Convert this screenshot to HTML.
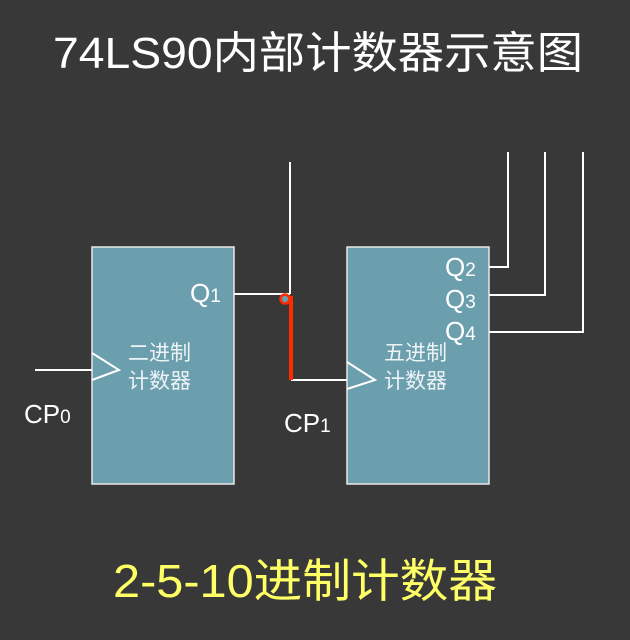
<!DOCTYPE html>
<html><head><meta charset="utf-8"><style>
body{margin:0;background:#383838;}
svg{display:block}
text{font-family:"Liberation Sans","Noto Sans CJK SC",sans-serif;}
</style></head><body>
<svg width="630" height="640" xmlns="http://www.w3.org/2000/svg">
<rect width="630" height="640" fill="#383838"/>
<text x="318" y="68" fill="#fff" font-size="44" text-anchor="middle" textLength="530" lengthAdjust="spacingAndGlyphs">74LS90内部计数器示意图</text>
<rect x="92" y="247" width="142" height="237" fill="#6c9fae" stroke="#e8e8e8" stroke-width="1.5"/>
<rect x="347" y="247" width="142" height="237" fill="#6c9fae" stroke="#e8e8e8" stroke-width="1.5"/>
<g stroke="#fff" stroke-width="2" fill="none">
<line x1="35" y1="370" x2="92" y2="370"/>
<polyline points="92,353 119,370 92,380"/>
<polyline points="347,362 375,380 347,389"/>
<line x1="234" y1="294" x2="290" y2="294"/>
<line x1="290" y1="162" x2="290" y2="294"/>
<line x1="291" y1="380" x2="347" y2="380"/>
<polyline points="489,267 508,267 508,152"/>
<polyline points="489,295 545,295 545,152"/>
<polyline points="489,332 583,332 583,152"/>
</g>
<line x1="291" y1="296" x2="291" y2="380" stroke="#ff2a00" stroke-width="4"/>
<circle cx="285" cy="299" r="4.5" fill="#6c9fae" stroke="#ff2a00" stroke-width="2.5"/>
<g fill="#fff">
<text x="190" y="302" font-size="26">Q<tspan font-size="19">1</tspan></text>
<text x="445" y="276" font-size="26">Q<tspan font-size="19">2</tspan></text>
<text x="445" y="308" font-size="26">Q<tspan font-size="19">3</tspan></text>
<text x="445" y="340" font-size="26">Q<tspan font-size="19">4</tspan></text>
<text x="24" y="423" font-size="26">CP<tspan font-size="19">0</tspan></text>
<text x="284" y="432" font-size="26">CP<tspan font-size="19">1</tspan></text>
</g>
<g fill="#eef4f6" font-size="21">
<text x="128" y="360">二进制</text>
<text x="128" y="388">计数器</text>
<text x="384" y="360">五进制</text>
<text x="384" y="388">计数器</text>
</g>
<text x="305" y="597" fill="#ffff66" font-size="46" text-anchor="middle" textLength="384" lengthAdjust="spacingAndGlyphs">2-5-10进制计数器</text>
</svg>
</body></html>
